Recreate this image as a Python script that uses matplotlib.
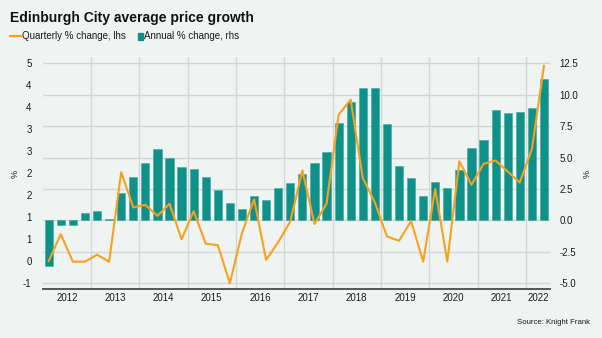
import numpy as np
import matplotlib
matplotlib.use("Agg")
import matplotlib.pyplot as plt

# ----------------------------------------------------------
# DATA
# ----------------------------------------------------------

years = ["2012", "2013", "2014", "2015", "2016", "2017",
         "2018", "2019", "2020", "2021", "2022"]

quarters = [f"{y}Q{q}" for y in years[:-1] for q in range(1, 5)] + ["2022Q1", "2022Q2"]

# annual % change, rhs
annual = [
    -3.6, -0.35, -0.35, 0.6,
    0.77, 0.13, 2.17, 3.45,
    4.6, 5.68, 4.96, 4.22,
    4.06, 3.45, 2.44, 1.43,
    0.93, 1.96, 1.62, 2.6,
    3.02, 3.69, 4.54, 5.41,
    7.75, 9.44, 10.58, 10.58,
    7.64, 4.32, 3.37, 1.96,
    3.08, 2.6, 3.98, 5.76,
    6.39, 8.8, 8.57, 8.65,
    8.97, 11.25,
]

# quarterly % change, lhs
quarterly = [
    -0.39, 0.34, -0.41, -0.41,
    -0.22, -0.41, 2.03, 1.07,
    1.14, 0.84, 1.17, 0.20,
    0.97, 0.08, 0.04, -1.0,
    0.37, 1.29, -0.36, 0.12,
    0.69, 2.08, 0.62, 1.17,
    3.6, 4.01, 1.87, 1.21,
    0.28, 0.16, 0.70, -0.41,
    1.57, -0.41, 2.33, 1.69,
    2.26, 2.35, 2.05, 1.75,
    2.66, 4.93,
]

right_ticks = [-5.0, -2.5, 0.0, 2.5, 5.0, 7.5, 10.0, 12.5]
left_ticks = np.linspace(-1, 5, 11)
left_labels = ["-1", "0", "1", "1", "2", "2", "3", "3", "4", "4", "5"]

# ----------------------------------------------------------
# STYLE
# ----------------------------------------------------------

BG = "#eff3f2"
TEAL = "#0f9189"
ORANGE = "#f7a11d"
GRID = "#d2d6d5"
TXT = "#1a1a1a"

plt.rcParams["font.family"] = ["Liberation Sans", "DejaVu Sans"]

fig = plt.figure(figsize=(6.02, 3.38), dpi=100, facecolor=BG)

ax = fig.add_axes([0.0709, 0.145, 0.8427, 0.686])
ax.set_facecolor(BG)
axl = ax.twinx()

x = np.arange(len(quarters))

# bars on the right axis
ax.bar(x, annual, width=0.68, color=TEAL, edgecolor="#3aa8a1",
       linewidth=0.4, zorder=2)
ax.set_ylim(-5.453, 13.0)
ax.set_xlim(-0.5, len(quarters) - 0.5)
ax.yaxis.tick_right()
ax.set_yticks(right_ticks)
ax.set_yticklabels([f"{t:.1f}" for t in right_ticks])

for t in right_ticks:
    ax.axhline(t, color=GRID, linewidth=1.0, zorder=0)

# year boundaries and labels
year_starts = np.arange(4, len(quarters), 4) - 0.5
for b in year_starts:
    ax.axvline(b, color=GRID, linewidth=1.0, zorder=0)

year_centers = [i * 4 + 1.5 for i in range(len(years) - 1)] + [40.5]
ax.set_xticks(year_centers)
ax.set_xticklabels(years)

for s in ["top", "left", "right"]:
    ax.spines[s].set_visible(False)
ax.spines["bottom"].set_color("#555555")
ax.spines["bottom"].set_linewidth(1.4)
ax.tick_params(axis="both", length=0, labelsize=7, colors=TXT)
ax.tick_params(axis="x", pad=3)
ax.tick_params(axis="y", pad=7)

# line on the left axis
axl.plot(x, quarterly, color=ORANGE, linewidth=1.5, zorder=3)
axl.set_ylim(-1.155, 5.172)
axl.yaxis.tick_left()
axl.set_yticks(left_ticks)
axl.set_yticklabels(left_labels)
axl.tick_params(axis="y", length=0, labelsize=7, colors=TXT, pad=8)
for s in ["top", "left", "right", "bottom"]:
    axl.spines[s].set_visible(False)

# axis unit labels
fig.text(0.025, 0.485, "%", fontsize=6.5, color=TXT, rotation=90,
         ha="center", va="center")
fig.text(0.975, 0.485, "%", fontsize=6.5, color=TXT, rotation=90,
         ha="center", va="center")

# title, legend, source
fig.text(0.017, 0.948, "Edinburgh City average price growth",
         fontsize=10, fontweight="bold", color="#111111", va="center")

fig.add_artist(plt.Line2D([0.017, 0.035], [0.893, 0.893],
                          color=ORANGE, linewidth=1.5))
fig.text(0.037, 0.893, "Quarterly % change, lhs", fontsize=7,
         color=TXT, va="center")
fig.add_artist(plt.Rectangle((0.229, 0.883), 0.009, 0.018,
                             color=TEAL, transform=fig.transFigure))
fig.text(0.240, 0.893, "Annual % change, rhs", fontsize=7,
         color=TXT, va="center")

fig.text(0.98, 0.045, "Source: Knight Frank", fontsize=5.6,
         color=TXT, ha="right", va="center")

fig.savefig("out.png", dpi=100, facecolor=BG)
plt.close(fig)
